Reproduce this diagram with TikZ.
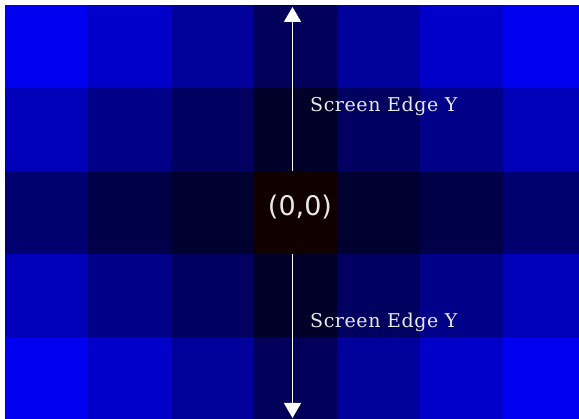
\documentclass[tikz,border=0pt]{standalone}
\usepackage{fontspec}
\usepackage{tikz}
\usetikzlibrary{arrows.meta}
\newfontfamily\edgefont[LetterSpace=3]{DejaVu Serif}
\newfontfamily\originfont{DejaVu Sans}
\definecolor{labelgray}{RGB}{232,232,232}
\definecolor{centre}{RGB}{16,0,0}

\begin{document}
\begin{tikzpicture}[x=1pt,y=-1pt,
  edge label/.style={anchor=base west, inner sep=0pt, text=labelgray,
    font=\edgefont\fontsize{19}{21}\selectfont},
  axis/.style={draw=white, line width=1.6pt, -{Triangle[width=17pt,length=15pt]}}]
  \useasboundingbox (0,0) rectangle (579,419);
  \fill[white] (0,0) rectangle (579,419);

  % Cells
  \begin{scope}
    \clip (4.5,5) rectangle (579,419);
    \foreach \b [count=\i from 0] in {240,200,154,90,154,200,240}
      \fill[fill={rgb,255:red,0;green,0;blue,\b}] ({4.5+83*\i},5) rectangle ++(83,83);
    \foreach \b [count=\i from 0] in {184,136,96,40,96,136,184}
      \fill[fill={rgb,255:red,0;green,0;blue,\b}] ({4.5+83*\i},88) rectangle ++(83,83);
    \foreach \b [count=\i from 0] in {112,72,48,0,48,72,112}
      \fill[fill={rgb,255:red,0;green,0;blue,\b}] ({4.5+83*\i},171) rectangle ++(83,83);
    \foreach \b [count=\i from 0] in {184,136,96,40,96,136,184}
      \fill[fill={rgb,255:red,0;green,0;blue,\b}] ({4.5+83*\i},254) rectangle ++(83,83);
    \foreach \b [count=\i from 0] in {240,200,154,90,154,200,240}
      \fill[fill={rgb,255:red,0;green,0;blue,\b}] ({4.5+83*\i},337) rectangle ++(83,83);
  \end{scope}

  % Origin
  \node[minimum width=83pt, minimum height=83pt, inner sep=0pt, fill=centre]
    (origin) at (295,212.5) {};
  \node[text=labelgray, inner sep=0pt, font=\originfont\fontsize{27}{30}\selectfont]
    (originlabel) at (300,207) {(0,0)};

  % Screen edges
  \coordinate (topedge) at (292.5,7);
  \coordinate (bottomedge) at (292.5,418);
  \draw[axis] (origin.north -| topedge) -- (topedge);
  \draw[axis] (origin.south -| bottomedge) -- (bottomedge);

  \node[edge label] (upperlabel) at (310,112) {Screen Edge Y};
  \node[edge label] (lowerlabel) at (310,328) {Screen Edge Y};
\end{tikzpicture}
\end{document}
